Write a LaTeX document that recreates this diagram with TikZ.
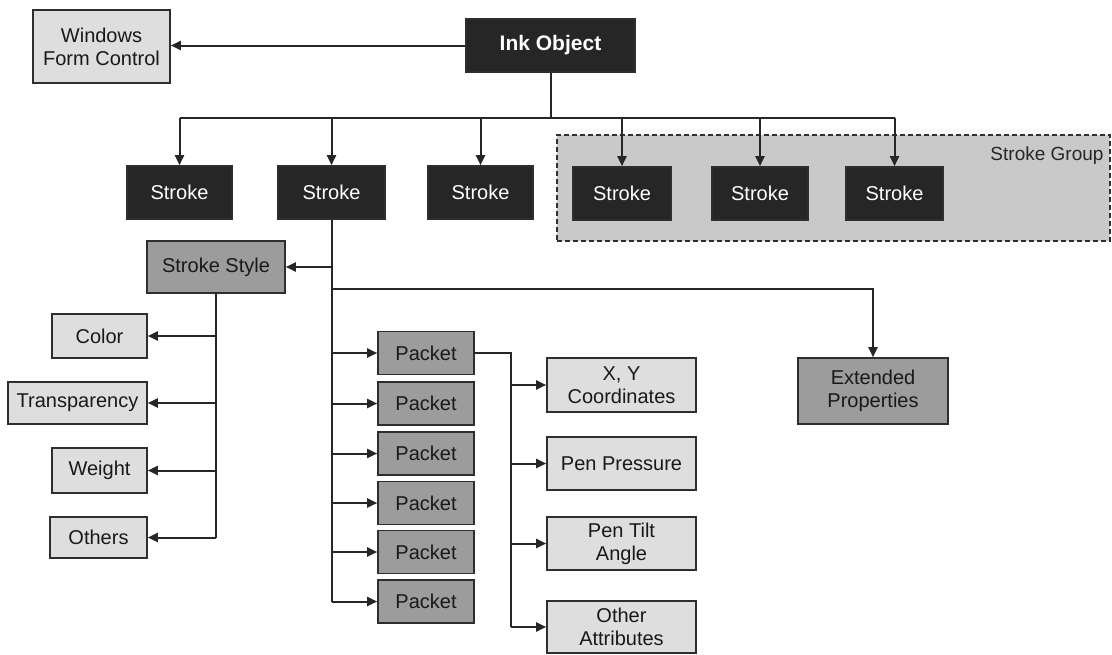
\documentclass[tikz,border=0pt]{standalone}
\usepackage{fontspec}
\setmainfont{Liberation Sans}
\usetikzlibrary{arrows.meta}
\definecolor{darkfill}{HTML}{262626}
\definecolor{midfill}{HTML}{9C9C9C}
\definecolor{lightfill}{HTML}{DEDEDE}
\definecolor{groupfill}{HTML}{C9C9C9}
\definecolor{edge}{HTML}{2E2E2E}
\tikzset{
  base/.style={draw=edge, line width=1.6pt, inner sep=0pt, align=center,
    font=\fontsize{20}{23}\selectfont},
  darkbox/.style={base, fill=darkfill, text=white},
  midbox/.style={base, fill=midfill, text=black!90},
  lightbox/.style={base, fill=lightfill, text=black!90},
  conn/.style={line width=2pt, draw=black!85},
  arr/.style={conn, -{Triangle[length=10pt,width=9pt]}},
}
\begin{document}
\begin{tikzpicture}[x=1pt,y=-1pt]
\useasboundingbox[fill=white] (0,0) rectangle (1112,654);

% stroke group
\node[draw=edge, dash pattern=on 5pt off 3pt, line width=1.6pt, fill=groupfill,
  minimum width=553, minimum height=106, inner sep=0pt] (grp) at (833.5,188) {};
\node[anchor=east, font=\fontsize{19}{22}\selectfont, text=black!85] (grplabel) at (1107,156) {Stroke Group};

% top
\node[lightbox, minimum width=137, minimum height=73] (wfc) at (101.5,46.5) {Windows\\Form Control};
\node[darkbox, minimum width=169, minimum height=53, font=\fontsize{21}{24}\selectfont\bfseries] (ink) at (550.5,45.5) {Ink Object};

% strokes
\node[darkbox, minimum width=105, minimum height=53] (s1) at (179.5,192.5) {Stroke};
\node[darkbox, minimum width=107, minimum height=53] (s2) at (331.5,192.5) {Stroke};
\node[darkbox, minimum width=105, minimum height=53] (s3) at (480.5,192.5) {Stroke};
\node[darkbox, minimum width=98, minimum height=53] (s4) at (622,193.5) {Stroke};
\node[darkbox, minimum width=96, minimum height=53] (s5) at (760,193.5) {Stroke};
\node[darkbox, minimum width=97, minimum height=53] (s6) at (894.5,193.5) {Stroke};

% stroke style and its children
\node[midbox, minimum width=138, minimum height=52] (sstyle) at (216,267) {Stroke Style};
\node[lightbox, minimum width=95, minimum height=44] (color) at (99.5,336) {Color};
\node[lightbox, minimum width=139, minimum height=42] (transp) at (77.5,403) {Transparency};
\node[lightbox, minimum width=95, minimum height=45] (weight) at (99.5,470.5) {Weight};
\node[lightbox, minimum width=97, minimum height=41] (others) at (98.5,537.5) {Others};

% extended properties
\node[midbox, minimum width=150, minimum height=66] (ext) at (873,391) {Extended\\Properties};

% packets
\node[midbox, minimum width=96, minimum height=43] (p1) at (426,353) {Packet};
\node[midbox, minimum width=96, minimum height=43] (p2) at (426,403.5) {Packet};
\node[midbox, minimum width=96, minimum height=43] (p3) at (426,453.5) {Packet};
\node[midbox, minimum width=96, minimum height=43] (p4) at (426,503) {Packet};
\node[midbox, minimum width=96, minimum height=43] (p5) at (426,552) {Packet};
\node[midbox, minimum width=96, minimum height=43] (p6) at (426,601.5) {Packet};

% attributes
\node[lightbox, minimum width=149, minimum height=54] (xy) at (621.5,385) {X, Y\\Coordinates};
\node[lightbox, minimum width=149, minimum height=53] (pp) at (621.5,463.5) {Pen Pressure};
\node[lightbox, minimum width=149, minimum height=53] (pt) at (621.5,543.5) {Pen Tilt\\Angle};
\node[lightbox, minimum width=149, minimum height=52] (oa) at (621.5,627) {Other\\Attributes};

% connectors: top
\draw[arr] (ink.west) -- (ink.west -| wfc.east);
\coordinate (bus) at (550.5,118);
\draw[conn] (ink.south) -- (bus);
\draw[conn] (s1.north |- bus) -- (s6.north |- bus);
\foreach \s in {s1,s2,s3,s4,s5,s6}
  \draw[arr] (\s.north |- bus) -- (\s.north);

% connectors: under stroke 2
\draw[conn] (s2.south) -- (s2.south |- p6.west);
\draw[arr] (s2.south |- sstyle.east) -- (sstyle.east);
\coordinate (eb) at (0,289);
\draw[arr] (s2.south |- eb) -| (ext.north);
\foreach \p in {p1,p2,p3,p4,p5,p6}
  \draw[arr] (s2.south |- \p.west) -- (\p.west);

% connectors: stroke style
\draw[conn] (sstyle.south) -- (sstyle.south |- others.east);
\foreach \c in {color,transp,weight,others}
  \draw[arr] (sstyle.south |- \c.east) -- (\c.east);

% connectors: packet attributes
\coordinate (ab) at (511,0);
\draw[conn] (p1.east) -| (ab |- oa.west);
\foreach \a in {xy,pp,pt,oa}
  \draw[arr] (ab |- \a.west) -- (\a.west);
\end{tikzpicture}
\end{document}
